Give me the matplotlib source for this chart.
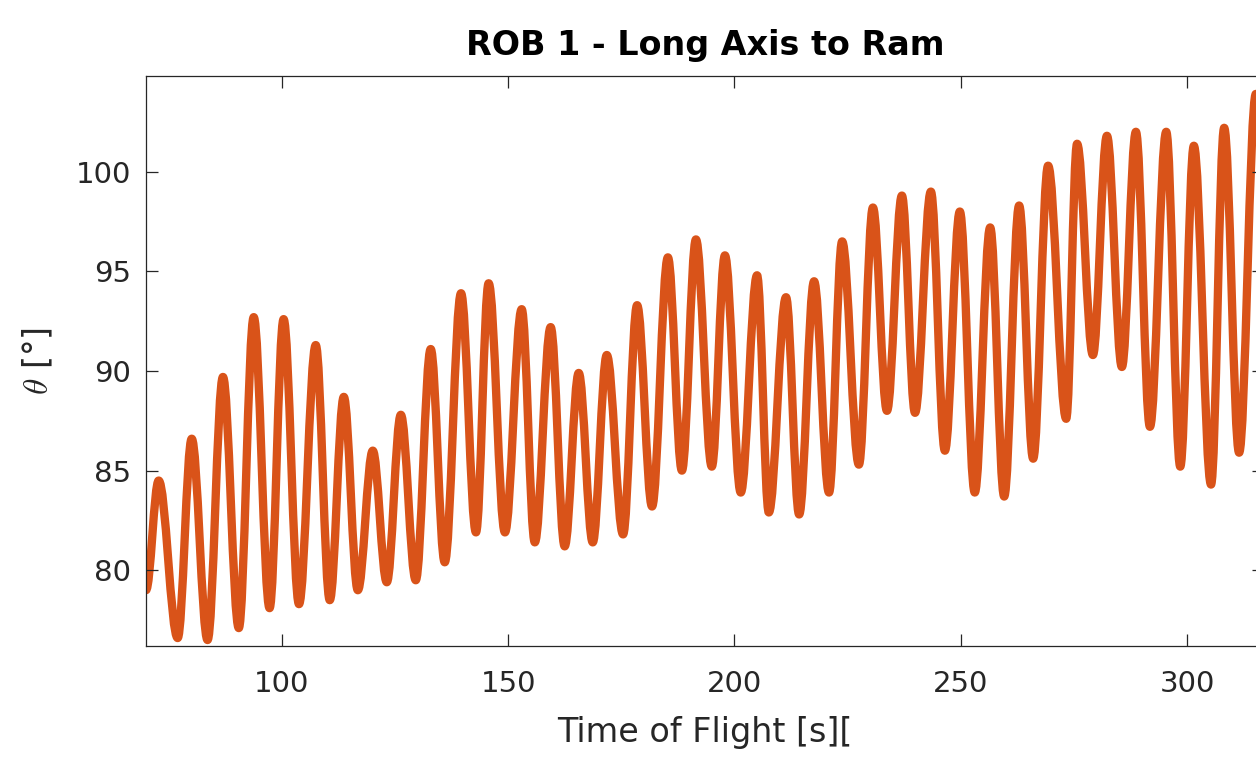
import matplotlib
matplotlib.use("Agg")
import matplotlib.pyplot as plt
from matplotlib.path import Path
from matplotlib.patches import PathPatch

# Peaks / troughs of the attitude signal
time_s = [
    70.0, 72.8, 77.0, 80.1, 83.6, 87.0, 90.5, 93.8, 97.3, 100.4,
    103.8, 107.5, 110.6, 113.7, 116.8, 120.1, 123.2, 126.3, 129.6, 132.9,
    136.0, 139.6, 142.9, 145.7, 149.3, 153.0, 155.9, 159.4, 162.5, 165.6,
    168.7, 171.8, 175.4, 178.5, 181.8, 185.3, 188.4, 191.5, 195.0, 197.9,
    201.4, 205.0, 207.6, 211.4, 214.3, 217.6, 220.9, 223.8, 227.5, 230.6,
    233.7, 237.0, 239.9, 243.4, 246.5, 249.8, 253.1, 256.5, 259.6, 262.9,
    266.0, 269.3, 273.3, 275.7, 279.2, 282.3, 285.6, 288.7, 291.8, 295.4,
    298.5, 301.5, 305.3, 308.2, 311.5, 315.2,
]
theta_deg = [
    79.0, 84.5, 76.6, 86.6, 76.5, 89.7, 77.1, 92.7, 78.1, 92.6,
    78.3, 91.3, 78.5, 88.7, 79.0, 86.0, 79.4, 87.8, 79.5, 91.1,
    80.4, 93.9, 81.9, 94.4, 81.9, 93.1, 81.4, 92.2, 81.2, 89.9,
    81.4, 90.8, 81.8, 93.3, 83.2, 95.7, 85.0, 96.6, 85.2, 95.8,
    83.9, 94.8, 82.9, 93.7, 82.8, 94.5, 83.9, 96.5, 85.3, 98.2,
    88.0, 98.8, 87.9, 99.0, 86.0, 98.0, 83.9, 97.2, 83.7, 98.3,
    85.6, 100.3, 87.6, 101.4, 90.8, 101.8, 90.2, 102.0, 87.2, 102.0,
    85.2, 101.3, 84.3, 102.2, 85.9, 103.9,
]

x_ticks = [100, 150, 200, 250, 300]
y_ticks = [80, 85, 90, 95, 100]

plt.rcParams["font.family"] = ["DejaVu Sans"]
plt.rcParams["mathtext.fontset"] = "cm"

fig = plt.figure(figsize=(12.56, 7.67), dpi=100)
ax = fig.add_axes([146 / 1256, 1 - 646 / 767, (1264 - 146) / 1256, (646 - 76) / 767])

# smooth stroke through the extrema: horizontal tangent at every peak/trough
verts = [(time_s[0], theta_deg[0])]
codes = [Path.MOVETO]
for i in range(1, len(time_s)):
    x0, y0 = time_s[i - 1], theta_deg[i - 1]
    x1, y1 = time_s[i], theta_deg[i]
    dx = x1 - x0
    verts += [(x0 + 0.36 * dx, y0), (x1 - 0.36 * dx, y1), (x1, y1)]
    codes += [Path.CURVE4] * 3

ax.add_patch(PathPatch(Path(verts, codes), facecolor="none", edgecolor="#D95319",
                       linewidth=6, capstyle="round", joinstyle="round",
                       transform=ax.transData))

ax.set_xlim(70, 317.0)
ax.set_ylim(76.2, 104.8)
ax.set_xticks(x_ticks)
ax.set_yticks(y_ticks)

grey = "#262626"
for side in ax.spines.values():
    side.set_color(grey)
    side.set_linewidth(0.9)
ax.tick_params(direction="in", length=8.5, width=0.9, colors=grey,
               labelsize=21, top=True, right=True)
ax.tick_params(axis="x", pad=17)
ax.tick_params(axis="y", pad=11)

ax.set_xlabel("Time of Flight [s][", fontsize=24, color=grey, labelpad=13)
ax.set_ylabel(r"$\theta$ [°]", fontsize=24, color=grey, labelpad=14)
ax.set_title("ROB 1 - Long Axis to Ram", fontsize=24, fontweight="bold",
             color="black", pad=15)

fig.savefig("out.png", dpi=100)
